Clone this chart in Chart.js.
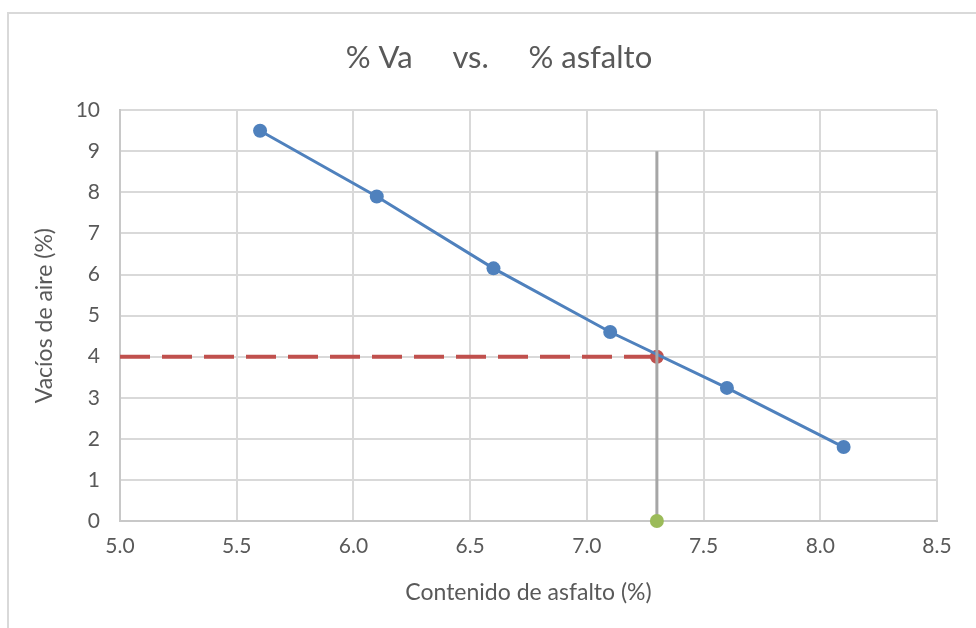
<!DOCTYPE html>
<html>
<head>
<meta charset="utf-8">
<script src="https://cdn.jsdelivr.net/npm/chart.js@4/dist/chart.umd.min.js"></script>
<style>
  html, body { margin: 0; padding: 0; background: #fff; }
  #wrap { position: relative; width: 976px; height: 628px; overflow: hidden; }
  #frame { position: absolute; left: 7px; top: 12px; width: 1000px; height: 700px; border: 2px solid #d9d9d9; box-sizing: border-box; }
  #chart { position: absolute; left: 0; top: 0; }
</style>
</head>
<body>
<div id="wrap">
  <div id="frame"></div>
  <canvas id="chart" width="976" height="628"></canvas>
</div>
<script>
// asphalt content (%) vs air voids (%)
const asphalt = [5.6, 6.1, 6.6, 7.1, 7.6, 8.1];
const airVoids = [9.5, 7.9, 6.15, 4.6, 3.24, 1.8];

// design reading at 4 % air voids
const designAsphalt = 7.3;
const designVoids = 4;
const guideTop = 9;

const xMin = 5.0, xMax = 8.5, xStep = 0.5;
const yMin = 0, yMax = 10, yStep = 1;

const font = 'Lato, "Liberation Sans", sans-serif';
const textColor = '#595959';

const ctx = document.getElementById('chart');
new Chart(ctx, {
    type: 'scatter',
    data: {
        datasets: [
            {
                label: 'guia',
                data: [{x: designAsphalt, y: yMin}, {x: designAsphalt, y: guideTop}],
                showLine: true,
                borderColor: '#a6a6a6',
                borderWidth: 3,
                pointRadius: 0,
                order: 1
            },
            {
                label: 'asfalto optimo',
                data: [{x: designAsphalt, y: yMin}],
                backgroundColor: '#9bbb59',
                borderColor: '#9bbb59',
                pointRadius: 7,
                pointBorderWidth: 0,
                clip: false,
                order: 0
            },
            {
                label: '% Va',
                data: asphalt.map((v, i) => ({x: v, y: airVoids[i]})),
                showLine: true,
                borderColor: '#4f81bd',
                backgroundColor: '#4f81bd',
                borderWidth: 3,
                pointRadius: 7,
                pointBorderWidth: 0,
                order: 2
            },
            {
                label: '4 %',
                data: [{x: xMin, y: designVoids}, {x: designAsphalt, y: designVoids}],
                showLine: true,
                borderColor: '#c0504d',
                backgroundColor: '#c0504d',
                borderWidth: 4,
                borderDash: [30, 12],
                pointRadius: [0, 7],
                pointBorderWidth: 0,
                order: 3
            }
        ]
    },
    options: {
        responsive: false,
        animation: false,
        layout: { padding: { left: 22, right: 0, top: 0, bottom: 17 } },
        plugins: {
            legend: { display: false },
            tooltip: { enabled: false },
            title: {
                display: true,
                text: '% Va     vs.     % asfalto',
                color: textColor,
                font: { family: font, size: 31, weight: 'normal' },
                padding: { top: 39, bottom: 34 }
            }
        },
        scales: {
            x: {
                type: 'linear',
                min: xMin,
                max: xMax,
                afterFit: s => { s.height = 90; },
                grid: { color: '#d9d9d9', lineWidth: 2, drawTicks: false },
                border: { color: '#c8c8c8', width: 2 },
                ticks: {
                    stepSize: xStep,
                    padding: 13,
                    color: textColor,
                    font: { family: font, size: 21 },
                    callback: v => v.toFixed(1)
                },
                title: {
                    display: true,
                    text: 'Contenido de asfalto (%)',
                    color: textColor,
                    font: { family: font, size: 23 },
                    padding: { top: 0, bottom: 5 }
                }
            },
            y: {
                min: yMin,
                max: yMax,
                afterFit: s => { s.width = 98; },
                grid: { color: '#d9d9d9', lineWidth: 2, drawTicks: false },
                border: { color: '#c8c8c8', width: 2 },
                ticks: {
                    stepSize: yStep,
                    padding: 20,
                    color: textColor,
                    font: { family: font, size: 21 }
                },
                title: {
                    display: true,
                    text: 'Vacíos de aire (%)',
                    color: textColor,
                    font: { family: font, size: 23 },
                    padding: { top: 9, bottom: 0 }
                }
            },
            // empty right margin so the title centres like the original
            yRight: {
                position: 'right',
                min: yMin,
                max: yMax,
                afterFit: s => { s.width = 39; },
                grid: { display: false },
                border: { display: false },
                ticks: { display: false }
            }
        }
    }
});
</script>
</body>
</html>
